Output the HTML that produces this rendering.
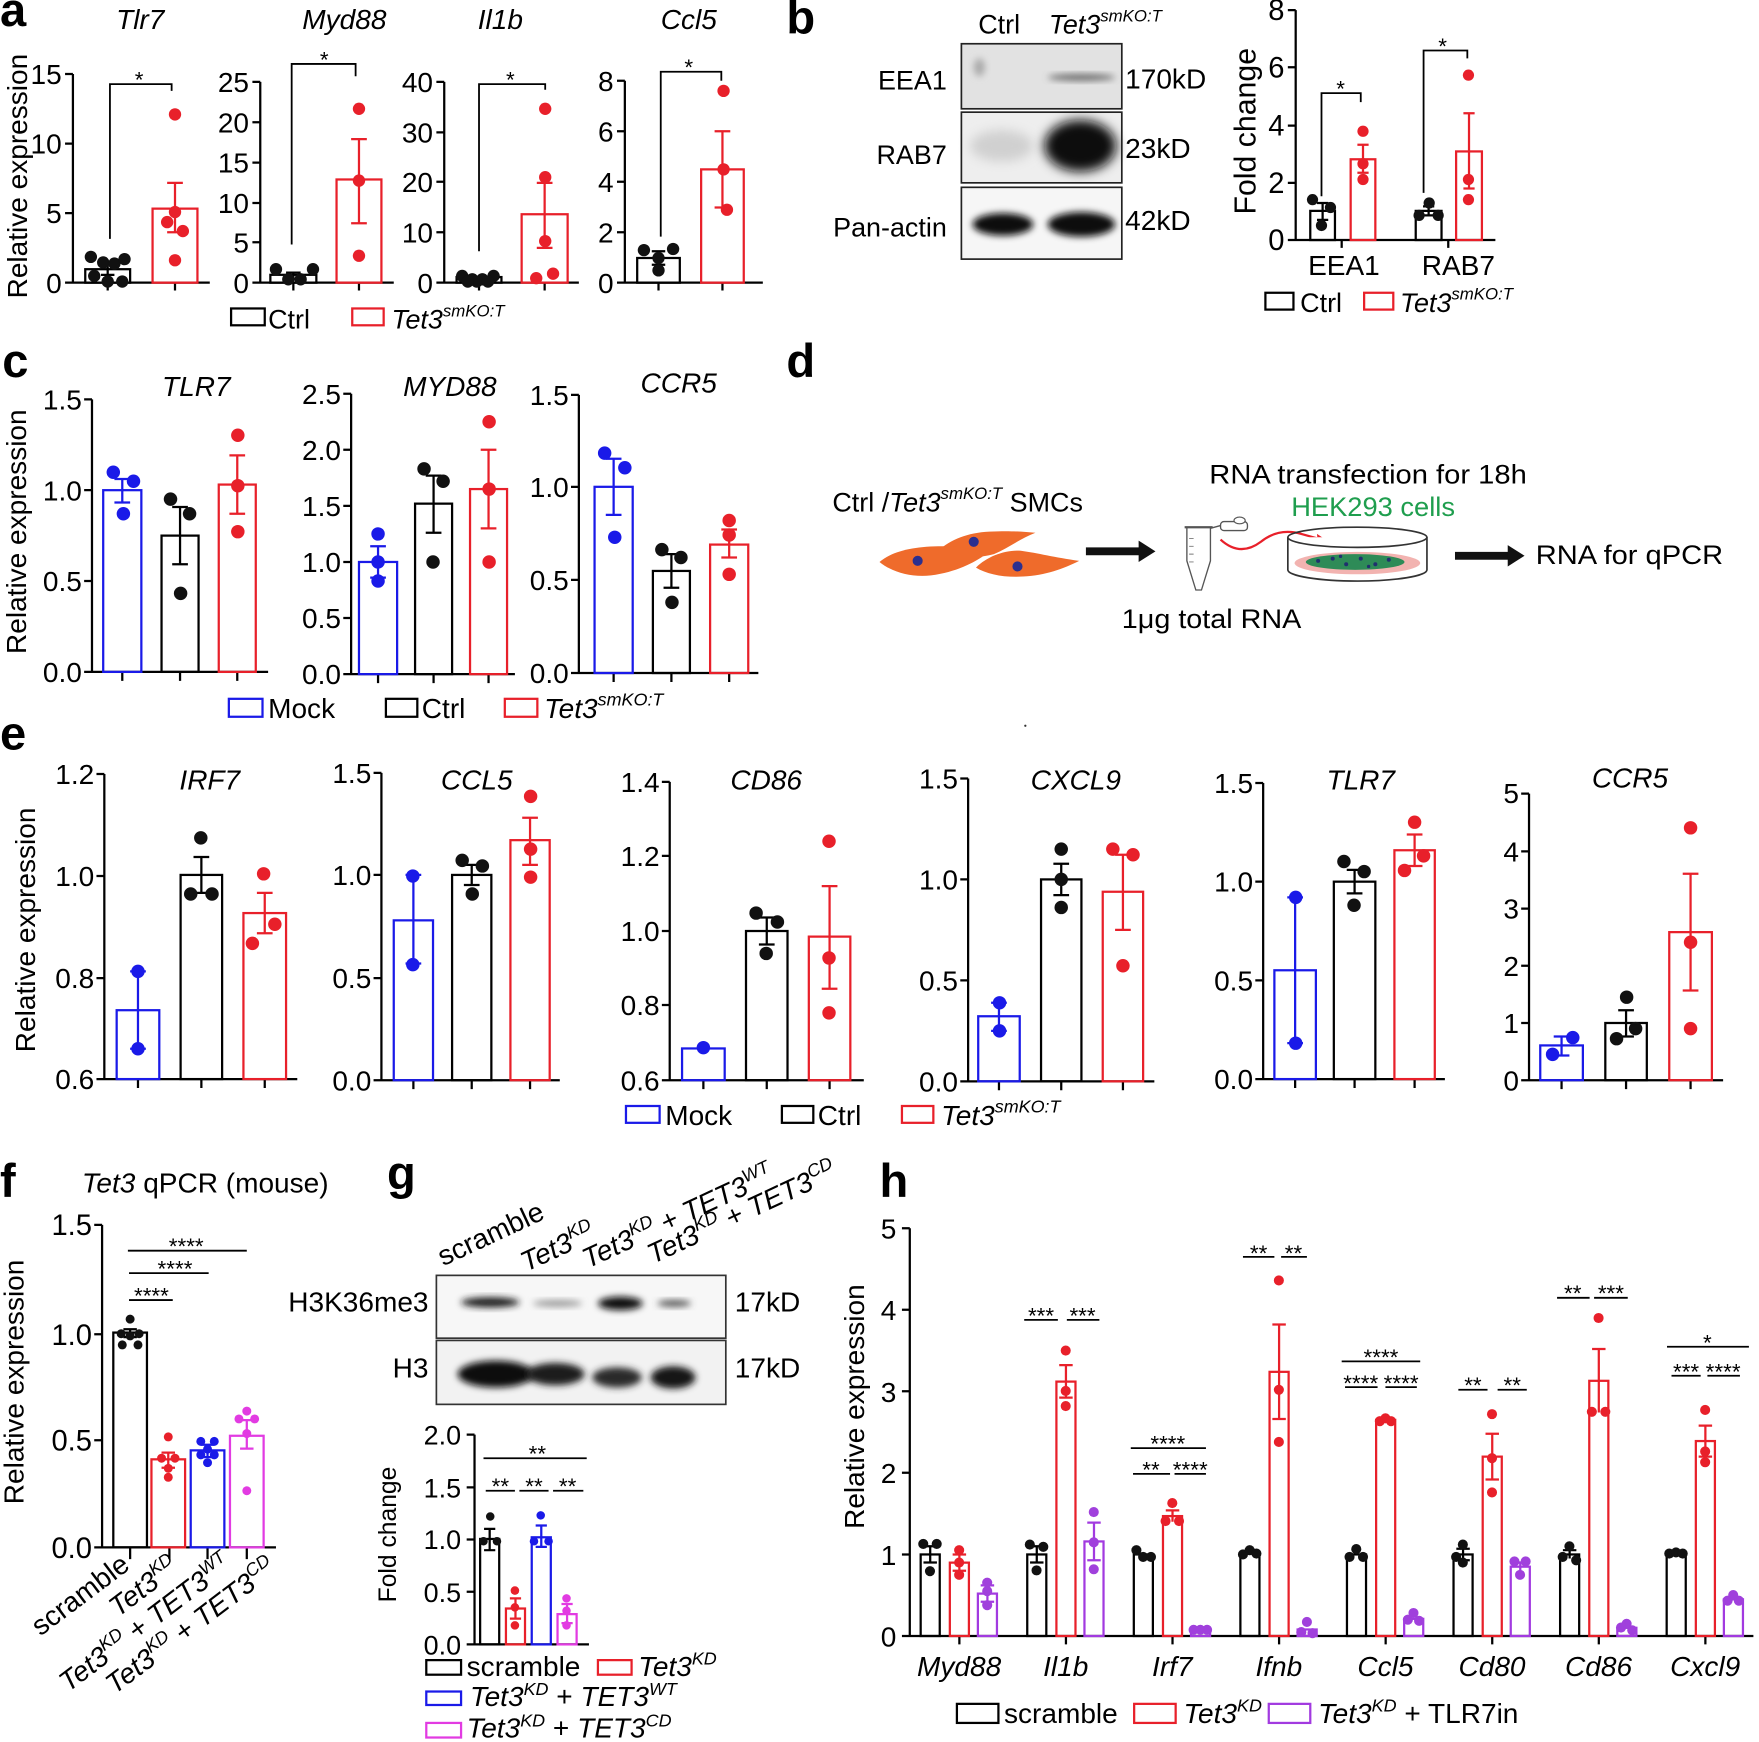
<!DOCTYPE html>
<html><head><meta charset="utf-8"><style>
html,body{margin:0;padding:0;background:#fff}
svg{display:block}
text{font-family:"Liberation Sans",Arial,sans-serif;fill:#000}
.L{font-weight:bold;font-size:42px}
.ax{stroke:#000;stroke-width:2;fill:none}
.sg{stroke:#000;stroke-width:1.6;fill:none}
.k{fill:none;stroke:#000;stroke-width:2}
.r{fill:none;stroke:#e8202a;stroke-width:2}
.b{fill:none;stroke:#1a1ae8;stroke-width:2}
.m{fill:none;stroke:#e23be2;stroke-width:2}
.p{fill:none;stroke:#a23ae0;stroke-width:2}
.fk{fill:#111}.fr{fill:#e8202a}.fb{fill:#1a1ae8}.fm{fill:#e23be2}.fp{fill:#a040dc}
</style></head><body>
<svg width="1759" height="1742" viewBox="0 0 1568 1553" preserveAspectRatio="none" xmlns="http://www.w3.org/2000/svg">
<defs>
<filter id="bl" x="-50%" y="-50%" width="200%" height="200%"><feGaussianBlur stdDeviation="3"/></filter>
<filter id="bl2" x="-50%" y="-50%" width="200%" height="200%"><feGaussianBlur stdDeviation="5"/></filter>
</defs>

<!-- ================= PANEL A ================= -->
<text class="L" x="0" y="23">a</text>
<g font-size="25" font-style="italic" text-anchor="middle">
<text x="125" y="26">Tlr7</text><text x="307" y="26">Myd88</text><text x="446" y="26">Il1b</text><text x="614" y="26">Ccl5</text>
</g>
<text transform="translate(24,157) rotate(-90)" text-anchor="middle" font-size="25">Relative expression</text>
<!-- a1 -->
<path class="ax" d="M65,66V252H187M58,66H65M58,128H65M58,190H65M58,252H65M96,252V259M156,252V259"/>
<g font-size="25" text-anchor="end"><text x="55" y="75">15</text><text x="55" y="137">10</text><text x="55" y="199">5</text><text x="55" y="261">0</text></g>
<rect x="76" y="240" width="40" height="12" class="k"/>
<rect x="136" y="186" width="40" height="66" class="r"/>
<path class="r" d="M156,163V207M149,163H163M149,207H163"/>
<path class="k" d="M96,235V245M90,235H102M90,245H102"/>
<g class="fr"><circle cx="156" cy="102" r="5.5"/><circle cx="156" cy="189" r="5.5"/><circle cx="149" cy="198" r="5.5"/><circle cx="163" cy="206" r="5.5"/><circle cx="156" cy="232" r="5.5"/></g>
<g class="fk"><circle cx="81" cy="229" r="5.5"/><circle cx="92" cy="234" r="5.5"/><circle cx="102" cy="235" r="5.5"/><circle cx="111" cy="231" r="5.5"/><circle cx="84" cy="246" r="5.5"/><circle cx="96" cy="251" r="5.5"/><circle cx="109" cy="251" r="5.5"/></g>
<path class="sg" d="M98,213V75H153V81"/><text x="124" y="78" font-size="20" text-anchor="middle">*</text>
<!-- a2 -->
<path class="ax" d="M232,73V252H351M225,73H232M225,109H232M225,145H232M225,181H232M225,216H232M225,252H232M261.5,252V259M320,252V259"/>
<g font-size="25" text-anchor="end"><text x="222" y="82">25</text><text x="222" y="118">20</text><text x="222" y="154">15</text><text x="222" y="190">10</text><text x="222" y="225">5</text><text x="222" y="261">0</text></g>
<rect x="241" y="245" width="41" height="7" class="k"/>
<rect x="300" y="160" width="40" height="92" class="r"/>
<path class="r" d="M320,124V199M313,124H327M313,199H327"/>
<path class="k" d="M261.5,243V249M255,243H268M255,249H268"/>
<g class="fr"><circle cx="320" cy="97" r="5.5"/><circle cx="320" cy="161" r="5.5"/><circle cx="320" cy="228" r="5.5"/></g>
<g class="fk"><circle cx="246" cy="240" r="5.5"/><circle cx="279" cy="240" r="5.5"/><circle cx="257" cy="249" r="5.5"/><circle cx="268" cy="249" r="5.5"/></g>
<path class="sg" d="M260,218V57H317V68"/><text x="289" y="60" font-size="20" text-anchor="middle">*</text>
<!-- a3 -->
<path class="ax" d="M396,73V252H516M389,73H396M389,118H396M389,162H396M389,207H396M389,252H396M427,252V259M485.5,252V259"/>
<g font-size="25" text-anchor="end"><text x="386" y="82">40</text><text x="386" y="127">30</text><text x="386" y="171">20</text><text x="386" y="216">10</text><text x="386" y="261">0</text></g>
<rect x="407" y="247" width="40" height="5" class="k"/>
<rect x="465" y="191" width="41" height="61" class="r"/>
<path class="r" d="M485.5,163V221M478.5,163H492.5M478.5,221H492.5"/>
<g class="fr"><circle cx="486" cy="97" r="5.5"/><circle cx="486" cy="158" r="5.5"/><circle cx="486" cy="215" r="5.5"/><circle cx="493" cy="244" r="5.5"/><circle cx="478" cy="248" r="5.5"/></g>
<g class="fk"><circle cx="412" cy="246" r="5.5"/><circle cx="421" cy="249" r="5.5"/><circle cx="430" cy="249" r="5.5"/><circle cx="440" cy="246" r="5.5"/><circle cx="425" cy="251" r="5.5"/><circle cx="435" cy="251" r="5.5"/><circle cx="417" cy="251" r="5.5"/></g>
<path class="sg" d="M427,224V75H486V80"/><text x="455" y="78" font-size="20" text-anchor="middle">*</text>
<!-- a4 -->
<path class="ax" d="M557,72V252H680M550,72H557M550,117H557M550,162H557M550,207H557M550,252H557M587,252V259M644,252V259"/>
<g font-size="25" text-anchor="end"><text x="547" y="81">8</text><text x="547" y="126">6</text><text x="547" y="171">4</text><text x="547" y="216">2</text><text x="547" y="261">0</text></g>
<rect x="568" y="230" width="38" height="22" class="k"/>
<rect x="625" y="151" width="38" height="101" class="r"/>
<path class="r" d="M644,117V185M637,117H651M637,185H651"/>
<path class="k" d="M587,224V236M581,224H593M581,236H593"/>
<g class="fr"><circle cx="645" cy="81" r="5.5"/><circle cx="645" cy="151" r="5.5"/><circle cx="648" cy="187" r="5.5"/></g>
<g class="fk"><circle cx="574" cy="223" r="5.5"/><circle cx="600" cy="222" r="5.5"/><circle cx="587" cy="230" r="5.5"/><circle cx="587" cy="241" r="5.5"/></g>
<path class="sg" d="M589,211V64H643V72"/><text x="614" y="67" font-size="20" text-anchor="middle">*</text>
<!-- legend a -->
<rect x="206" y="275" width="30" height="15" class="k"/>
<text x="239" y="293" font-size="24">Ctrl</text>
<rect x="314" y="275" width="28" height="15" class="r"/>
<text x="349" y="293" font-size="24" font-style="italic">Tet3<tspan font-size="15" dy="-11">smKO:T</tspan></text>

<!-- ================= PANEL B ================= -->
<text class="L" x="701" y="30">b</text>
<text x="872" y="30" font-size="24">Ctrl</text>
<text x="935" y="30" font-size="24" font-style="italic">Tet3<tspan font-size="15" dy="-11">smKO:T</tspan></text>
<rect x="857" y="39" width="143" height="58" fill="#e2e2e2"/>
<rect x="857" y="100" width="143" height="63" fill="#eeeeee"/>
<rect x="857" y="167" width="143" height="64" fill="#f6f6f6"/>
<ellipse cx="964" cy="69" rx="30" ry="3" fill="#6a6a6a" filter="url(#bl)"/>
<ellipse cx="873" cy="60" rx="5" ry="8" fill="#aaa" filter="url(#bl)"/>
<ellipse cx="893" cy="130" rx="28" ry="14" fill="#d0d0d0" filter="url(#bl2)"/>
<ellipse cx="963" cy="130" rx="32" ry="23" fill="#111" filter="url(#bl2)"/>
<ellipse cx="894" cy="200" rx="27" ry="10" fill="#111" filter="url(#bl)"/>
<ellipse cx="964" cy="200" rx="30" ry="11" fill="#111" filter="url(#bl)"/>
<g fill="none" stroke="#222" stroke-width="1.5"><rect x="857" y="39" width="143" height="58"/><rect x="857" y="100" width="143" height="63"/><rect x="857" y="167" width="143" height="64"/></g>
<g font-size="24" text-anchor="end"><text x="844" y="80">EEA1</text><text x="844" y="146">RAB7</text><text x="844" y="211">Pan-actin</text></g>
<g font-size="25"><text x="1003" y="79">170kD</text><text x="1003" y="141">23kD</text><text x="1003" y="205">42kD</text></g>
<!-- b chart -->
<path class="ax" d="M1155,9V214H1333M1148,9H1155M1148,60H1155M1148,112H1155M1148,163H1155M1148,214H1155M1196,214V221M1291,214V221"/>
<g font-size="26" text-anchor="end"><text x="1145" y="18">8</text><text x="1145" y="69">6</text><text x="1145" y="121">4</text><text x="1145" y="172">2</text><text x="1145" y="223">0</text></g>
<text transform="translate(1119,117) rotate(-90)" text-anchor="middle" font-size="27">Fold change</text>
<rect x="1168" y="188" width="22" height="26" class="k"/>
<rect x="1204" y="142" width="22" height="72" class="r"/>
<rect x="1262" y="188" width="23" height="26" class="k"/>
<rect x="1298" y="135" width="23" height="79" class="r"/>
<path class="k" d="M1179,181V196M1174,181H1184M1174,196H1184M1273.5,184V192M1268.5,184H1278.5M1268.5,192H1278.5"/>
<path class="r" d="M1215,129V154M1210,129H1220M1210,154H1220M1309.5,101V168M1304.5,101H1314.5M1304.5,168H1314.5"/>
<g class="fr"><circle cx="1215" cy="117" r="5"/><circle cx="1215" cy="146" r="5"/><circle cx="1215" cy="160" r="5"/><circle cx="1309" cy="67" r="5"/><circle cx="1309" cy="160" r="5"/><circle cx="1309" cy="178" r="5"/></g>
<g class="fk"><circle cx="1170" cy="178" r="5"/><circle cx="1186" cy="185" r="5"/><circle cx="1178" cy="201" r="5"/><circle cx="1274" cy="181" r="5"/><circle cx="1265" cy="192" r="5"/><circle cx="1282" cy="192" r="5"/></g>
<path class="sg" d="M1178,175V83H1213V91M1269,172V45H1308V52"/>
<text x="1195" y="86" font-size="20" text-anchor="middle">*</text><text x="1286" y="48" font-size="20" text-anchor="middle">*</text>
<g font-size="25" text-anchor="middle"><text x="1198" y="245">EEA1</text><text x="1300" y="245">RAB7</text></g>
<rect x="1128" y="261" width="25" height="15" class="k"/>
<text x="1159" y="278" font-size="24">Ctrl</text>
<rect x="1216" y="261" width="26" height="15" class="r"/>
<text x="1248" y="278" font-size="24" font-style="italic">Tet3<tspan font-size="15" dy="-11">smKO:T</tspan></text>

<!-- ================= PANEL C ================= -->
<text class="L" x="2" y="336">c</text>
<g font-size="25" font-style="italic" text-anchor="middle"><text x="175" y="353">TLR7</text><text x="401" y="353">MYD88</text><text x="605" y="350">CCR5</text></g>
<text transform="translate(23,474) rotate(-90)" text-anchor="middle" font-size="25">Relative expression</text>
<!-- c1 -->
<path class="ax" d="M82,356V599H239M75,356H82M75,437H82M75,518H82M75,599H82M109,599V607M160.5,599V607M211.5,599V607"/>
<g font-size="25" text-anchor="end"><text x="73" y="365">1.5</text><text x="73" y="446">1.0</text><text x="73" y="527">0.5</text><text x="73" y="608">0.0</text></g>
<rect x="92" y="437" width="34" height="162" class="b"/>
<rect x="144" y="477.5" width="33" height="121.5" class="k"/>
<rect x="195" y="432" width="33" height="167" class="r"/>
<path class="b" d="M109,427V448M102,427H116M102,448H116"/>
<path class="k" d="M160.5,452V503M153.5,452H167.5M153.5,503H167.5"/>
<path class="r" d="M211.5,406V458M204.5,406H218.5M204.5,458H218.5"/>
<g class="fb"><circle cx="101" cy="421" r="6"/><circle cx="119" cy="429" r="6"/><circle cx="110" cy="458" r="6"/></g>
<g class="fk"><circle cx="152" cy="445" r="6"/><circle cx="169" cy="458" r="6"/><circle cx="161" cy="529" r="6"/></g>
<g class="fr"><circle cx="212" cy="388" r="6"/><circle cx="212" cy="433" r="6"/><circle cx="212" cy="474" r="6"/></g>
<!-- c2 -->
<path class="ax" d="M313,351V601H459M306,351H313M306,401H313M306,451H313M306,501H313M306,551H313M306,601H313M337,601V609M386.5,601V609M435.5,601V609"/>
<g font-size="25" text-anchor="end"><text x="304" y="360">2.5</text><text x="304" y="410">2.0</text><text x="304" y="460">1.5</text><text x="304" y="510">1.0</text><text x="304" y="560">0.5</text><text x="304" y="610">0.0</text></g>
<rect x="320" y="501" width="34" height="100" class="b"/>
<rect x="370" y="449" width="33" height="152" class="k"/>
<rect x="419" y="436" width="33" height="165" class="r"/>
<path class="b" d="M337,487V515M330,487H344M330,515H344"/>
<path class="k" d="M386.5,424V475M379.5,424H393.5M379.5,475H393.5"/>
<path class="r" d="M435.5,401V471M428.5,401H442.5M428.5,471H442.5"/>
<g class="fb"><circle cx="337" cy="476" r="6"/><circle cx="337" cy="501" r="6"/><circle cx="337" cy="518" r="6"/></g>
<g class="fk"><circle cx="378" cy="418" r="6"/><circle cx="395" cy="429" r="6"/><circle cx="386" cy="501" r="6"/></g>
<g class="fr"><circle cx="436" cy="376" r="6"/><circle cx="436" cy="436" r="6"/><circle cx="436" cy="501" r="6"/></g>
<!-- c3 -->
<path class="ax" d="M516,352V600H676M509,352H516M509,434H516M509,517H516M509,600H516M547,600V608M598.5,600V608M650,600V608"/>
<g font-size="25" text-anchor="end"><text x="507" y="361">1.5</text><text x="507" y="443">1.0</text><text x="507" y="526">0.5</text><text x="507" y="609">0.0</text></g>
<rect x="530" y="434" width="34" height="166" class="b"/>
<rect x="582" y="509" width="33" height="91" class="k"/>
<rect x="633" y="485.5" width="34" height="114.5" class="r"/>
<path class="b" d="M547,409V459M540,409H554M540,459H554"/>
<path class="k" d="M598.5,494V524M591.5,494H605.5M591.5,524H605.5"/>
<path class="r" d="M650,472V497M643,472H657M643,497H657"/>
<g class="fb"><circle cx="539" cy="404" r="6"/><circle cx="557" cy="417" r="6"/><circle cx="548" cy="479" r="6"/></g>
<g class="fk"><circle cx="590" cy="490" r="6"/><circle cx="607" cy="497" r="6"/><circle cx="599" cy="537" r="6"/></g>
<g class="fr"><circle cx="650" cy="464" r="6"/><circle cx="650" cy="477" r="6"/><circle cx="650" cy="512" r="6"/></g>
<!-- legend c -->
<rect x="204" y="623" width="30" height="16" class="b"/><text x="239" y="640" font-size="25">Mock</text>
<rect x="344" y="623" width="28" height="16" class="k"/><text x="376" y="640" font-size="25">Ctrl</text>
<rect x="450" y="623" width="29" height="16" class="r"/><text x="485" y="640" font-size="25" font-style="italic">Tet3<tspan font-size="16" dy="-11">smKO:T</tspan></text>

<!-- ================= PANEL D ================= -->
<text class="L" x="701" y="336">d</text>
<text x="742" y="456" font-size="24">Ctrl /<tspan font-style="italic">Tet3</tspan><tspan font-size="15" font-style="italic" dy="-11">smKO:T</tspan><tspan dy="11"> SMCs</tspan></text>
<text x="1078" y="431" font-size="24" textLength="283" lengthAdjust="spacingAndGlyphs">RNA transfection for 18h</text>
<text x="1151" y="460" font-size="24" fill="#1f9e4e" style="fill:#1f9e4e" textLength="146" lengthAdjust="spacingAndGlyphs">HEK293 cells</text>
<text x="1369" y="503" font-size="24" textLength="167" lengthAdjust="spacingAndGlyphs">RNA for qPCR</text>
<text x="1000" y="560" font-size="24" textLength="160" lengthAdjust="spacingAndGlyphs">1μg total RNA</text>
<g fill="#ef6b2b">
<path d="M836,491C848,481 862,475 882,474C900,473 912,474 923,475C908,481 898,489 886,494C872,498 850,498 836,491Z"/>
<path d="M784,501C796,491 815,487 840,487C858,487 870,490 879,494C868,502 852,510 830,513C812,515 795,510 784,501Z"/>
<path d="M870,506C880,496 896,490 910,491C925,493 940,497 962,500C948,507 932,513 912,514C895,515 880,512 870,506Z"/>
</g>
<g fill="#2b2f8f"><circle cx="868" cy="483" r="4.5"/><circle cx="818" cy="500" r="4.5"/><circle cx="907" cy="505" r="4.5"/></g>
<rect x="968" y="488" width="50" height="7" fill="#111"/><polygon points="1015,482 1030,491.5 1015,501" fill="#111"/>
<rect x="1297" y="492" width="50" height="7" fill="#111"/><polygon points="1344,486 1359,495.5 1344,505" fill="#111"/>
<!-- tube -->
<path d="M1058,470H1079V500L1071,526H1066L1058,500Z" fill="#fff" stroke="#555" stroke-width="1.2"/>
<path d="M1056,470H1081" stroke="#555" stroke-width="2"/>
<path d="M1060,480h4M1060,487h4M1060,494h4M1060,501h4" stroke="#777" stroke-width="0.8"/>
<path d="M1079,471L1090,468" stroke="#555" stroke-width="1.2"/>
<rect x="1088" y="465" width="24" height="8" rx="3" fill="#fff" stroke="#555" stroke-width="1.2"/>
<ellipse cx="1105" cy="464" rx="5" ry="3" fill="#fff" stroke="#555" stroke-width="1"/>
<path d="M1088,481C1100,492 1112,492 1124,483C1134,475 1146,472 1160,476L1178,481" fill="none" stroke="#e8202a" stroke-width="2"/>
<polygon points="1186,484 1174,476 1175,488" fill="#e8202a"/>
<!-- dish -->
<path d="M1148,479V508A62,10 0 0 0 1272,508V479" fill="#fff" stroke="#333" stroke-width="1.5"/>
<ellipse cx="1210" cy="502" rx="56" ry="10" fill="#f2b3b0"/>
<ellipse cx="1208" cy="501" rx="44" ry="7" fill="#2e8b57"/>
<g fill="#20306e"><circle cx="1175" cy="500" r="1.8"/><circle cx="1188" cy="498" r="1.8"/><circle cx="1200" cy="503" r="1.8"/><circle cx="1213" cy="498" r="1.8"/><circle cx="1226" cy="503" r="1.8"/><circle cx="1238" cy="499" r="1.8"/><circle cx="1195" cy="496" r="1.5"/><circle cx="1220" cy="505" r="1.5"/></g>
<ellipse cx="1210" cy="479" rx="62" ry="9" fill="none" stroke="#333" stroke-width="1.5"/>
<circle cx="914" cy="647" r="1" fill="#333"/>

<!-- ================= PANEL E ================= -->
<text class="L" x="0" y="668">e</text>
<text transform="translate(31,829) rotate(-90)" text-anchor="middle" font-size="25">Relative expression</text>
<g font-size="25" font-style="italic" text-anchor="middle"><text x="187" y="704">IRF7</text><text x="425" y="704">CCL5</text><text x="683" y="704">CD86</text><text x="959" y="704">CXCL9</text><text x="1213" y="704">TLR7</text><text x="1453" y="702">CCR5</text></g>
<!-- e1 -->
<path class="ax" d="M93,690V962H265M86,690H93M86,781H93M86,872H93M86,962H93M123,962V970M179.5,962V970M236,962V970"/>
<g font-size="25" text-anchor="end"><text x="84" y="699">1.2</text><text x="84" y="790">1.0</text><text x="84" y="881">0.8</text><text x="84" y="971">0.6</text></g>
<rect x="104" y="900.6" width="38" height="61.4" class="b"/>
<rect x="161" y="780" width="37" height="182" class="k"/>
<rect x="217" y="814" width="38" height="148" class="r"/>
<path class="b" d="M123,866V935M116,866H130M116,935H130"/>
<path class="k" d="M179.5,764V796M172.5,764H186.5M172.5,796H186.5"/>
<path class="r" d="M236,796V832M229,796H243M229,832H243"/>
<g class="fb"><circle cx="123" cy="866" r="6"/><circle cx="123" cy="935" r="6"/></g>
<g class="fk"><circle cx="179" cy="747" r="6"/><circle cx="170" cy="797" r="6"/><circle cx="189" cy="797" r="6"/></g>
<g class="fr"><circle cx="235" cy="779" r="6"/><circle cx="245" cy="824" r="6"/><circle cx="225" cy="841" r="6"/></g>
<!-- e2 -->
<path class="ax" d="M340,689V963H499M333,689H340M333,780H340M333,872H340M333,963H340M368.5,963V971M420.5,963V971M472.5,963V971"/>
<g font-size="25" text-anchor="end"><text x="331" y="698">1.5</text><text x="331" y="789">1.0</text><text x="331" y="881">0.5</text><text x="331" y="972">0.0</text></g>
<rect x="351" y="820.5" width="35" height="142.5" class="b"/>
<rect x="403" y="780" width="35" height="183" class="k"/>
<rect x="455" y="749" width="35" height="214" class="r"/>
<path class="b" d="M368.5,780V859M361.5,780H375.5M361.5,859H375.5"/>
<path class="k" d="M420.5,771V789M413.5,771H427.5M413.5,789H427.5"/>
<path class="r" d="M472.5,729V771M465.5,729H479.5M465.5,771H479.5"/>
<g class="fb"><circle cx="368" cy="781" r="6"/><circle cx="368" cy="860" r="6"/></g>
<g class="fk"><circle cx="412" cy="767" r="6"/><circle cx="430" cy="772" r="6"/><circle cx="421" cy="797" r="6"/></g>
<g class="fr"><circle cx="473" cy="710" r="6"/><circle cx="473" cy="757" r="6"/><circle cx="473" cy="782" r="6"/></g>
<!-- e3 -->
<path class="ax" d="M597,697V963H770M590,697H597M590,763H597M590,830H597M590,896H597M590,963H597M627,963V971M683.5,963V971M739.5,963V971"/>
<g font-size="25" text-anchor="end"><text x="588" y="706">1.4</text><text x="588" y="772">1.2</text><text x="588" y="839">1.0</text><text x="588" y="905">0.8</text><text x="588" y="972">0.6</text></g>
<rect x="608" y="934.7" width="38" height="28.3" class="b"/>
<rect x="665" y="830" width="37" height="133" class="k"/>
<rect x="721" y="835" width="37" height="128" class="r"/>
<path class="k" d="M683.5,818V842M676.5,818H690.5M676.5,842H690.5"/>
<path class="r" d="M739.5,790V881.5M732.5,790H746.5M732.5,881.5H746.5"/>
<g class="fb"><circle cx="627" cy="934" r="6"/></g>
<g class="fk"><circle cx="674" cy="814" r="6"/><circle cx="693" cy="822" r="6"/><circle cx="683" cy="850" r="6"/></g>
<g class="fr"><circle cx="739" cy="750" r="6"/><circle cx="739" cy="854" r="6"/><circle cx="739" cy="903" r="6"/></g>
<!-- e4 -->
<path class="ax" d="M863,694V964H1029M856,694H863M856,784H863M856,874H863M856,964H863M890.5,964V972M946,964V972M1001,964V972"/>
<g font-size="25" text-anchor="end"><text x="854" y="703">1.5</text><text x="854" y="793">1.0</text><text x="854" y="883">0.5</text><text x="854" y="973">0.0</text></g>
<rect x="872" y="906" width="37" height="58" class="b"/>
<rect x="928" y="784" width="36" height="180" class="k"/>
<rect x="983" y="795" width="36" height="169" class="r"/>
<path class="b" d="M890.5,894V919M883.5,894H897.5M883.5,919H897.5"/>
<path class="k" d="M946,770V798M939,770H953M939,798H953"/>
<path class="r" d="M1001,762V829M994,762H1008M994,829H1008"/>
<g class="fb"><circle cx="891" cy="894" r="6"/><circle cx="891" cy="919" r="6"/></g>
<g class="fk"><circle cx="946" cy="757" r="6"/><circle cx="946" cy="784" r="6"/><circle cx="946" cy="809" r="6"/></g>
<g class="fr"><circle cx="992" cy="757" r="6"/><circle cx="1010" cy="762" r="6"/><circle cx="1001" cy="861" r="6"/></g>
<!-- e5 -->
<path class="ax" d="M1126,698V962H1288M1119,698H1126M1119,786H1126M1119,874H1126M1119,962H1126M1154.5,962V970M1207.5,962V970M1261,962V970"/>
<g font-size="25" text-anchor="end"><text x="1117" y="707">1.5</text><text x="1117" y="795">1.0</text><text x="1117" y="883">0.5</text><text x="1117" y="971">0.0</text></g>
<rect x="1136" y="865" width="37" height="97" class="b"/>
<rect x="1189" y="786" width="37" height="176" class="k"/>
<rect x="1243" y="758" width="36" height="204" class="r"/>
<path class="b" d="M1154.5,800V930M1147.5,800H1161.5M1147.5,930H1161.5"/>
<path class="k" d="M1207.5,775.5V796.5M1200.5,775.5H1214.5M1200.5,796.5H1214.5"/>
<path class="r" d="M1261,744V772M1254,744H1268M1254,772H1268"/>
<g class="fb"><circle cx="1155" cy="800" r="6"/><circle cx="1155" cy="930" r="6"/></g>
<g class="fk"><circle cx="1198" cy="768" r="6"/><circle cx="1216" cy="777" r="6"/><circle cx="1207" cy="807" r="6"/></g>
<g class="fr"><circle cx="1261" cy="733" r="6"/><circle cx="1269" cy="763" r="6"/><circle cx="1252" cy="776" r="6"/></g>
<!-- e6 -->
<path class="ax" d="M1363,707.5V963H1536M1356,707.5H1363M1356,759H1363M1356,810H1363M1356,861H1363M1356,912H1363M1356,963H1363M1392,963V971M1449.5,963V971M1507,963V971"/>
<g font-size="25" text-anchor="end"><text x="1354" y="716">5</text><text x="1354" y="768">4</text><text x="1354" y="819">3</text><text x="1354" y="870">2</text><text x="1354" y="921">1</text><text x="1354" y="972">0</text></g>
<rect x="1373" y="932" width="38" height="31" class="b"/>
<rect x="1431" y="912" width="37" height="51" class="k"/>
<rect x="1488" y="831" width="38" height="132" class="r"/>
<path class="b" d="M1392,924V941M1385,924H1399M1385,941H1399"/>
<path class="k" d="M1449.5,900.6V924M1442.5,900.6H1456.5M1442.5,924H1456.5"/>
<path class="r" d="M1507,779V883M1500,779H1514M1500,883H1514"/>
<g class="fb"><circle cx="1402" cy="925" r="6"/><circle cx="1384" cy="940" r="6"/></g>
<g class="fk"><circle cx="1450" cy="889" r="6"/><circle cx="1458" cy="917" r="6"/><circle cx="1441" cy="926" r="6"/></g>
<g class="fr"><circle cx="1507" cy="738" r="6"/><circle cx="1507" cy="840" r="6"/><circle cx="1507" cy="917" r="6"/></g>
<!-- legend e -->
<rect x="558" y="986" width="30" height="15" class="b"/><text x="593" y="1003" font-size="25">Mock</text>
<rect x="697" y="986" width="28" height="15" class="k"/><text x="729" y="1003" font-size="25">Ctrl</text>
<rect x="804" y="986" width="28" height="15" class="r"/><text x="839" y="1003" font-size="25" font-style="italic">Tet3<tspan font-size="16" dy="-11">smKO:T</tspan></text>

<!-- ================= PANEL F ================= -->
<text class="L" x="0" y="1067">f</text>
<text x="73" y="1063" font-size="25"><tspan font-style="italic">Tet3</tspan> qPCR (mouse)</text>
<text transform="translate(21,1232) rotate(-90)" text-anchor="middle" font-size="25">Relative expression</text>
<path class="ax" d="M91,1092V1379.5H246M84,1092H91M84,1189.5H91M84,1284H91M84,1379.5H91M116,1379.5V1390M151,1379.5V1390M185,1379.5V1390M220,1379.5V1390"/>
<g font-size="26" text-anchor="end"><text x="82" y="1101">1.5</text><text x="82" y="1199">1.0</text><text x="82" y="1293">0.5</text><text x="82" y="1389">0.0</text></g>
<rect x="101" y="1188" width="30" height="191.5" class="k"/>
<rect x="135" y="1301" width="30" height="78.5" class="r"/>
<rect x="170" y="1293" width="30" height="86.5" class="b"/>
<rect x="205" y="1280" width="30" height="99.5" class="m"/>
<path class="k" d="M116,1185V1192M110,1185H122M110,1192H122"/>
<path class="r" d="M150,1295V1308.5M144,1295H156M144,1308.5H156"/>
<path class="b" d="M185,1288V1299M179,1288H191M179,1299H191"/>
<path class="m" d="M220,1266V1291.5M214,1266H226M214,1291.5H226"/>
<g class="fk"><circle cx="116" cy="1176" r="4"/><circle cx="108" cy="1189" r="4"/><circle cx="124" cy="1189" r="4"/><circle cx="116" cy="1191" r="4"/><circle cx="109" cy="1199" r="4"/><circle cx="123" cy="1199" r="4"/></g>
<g class="fr"><circle cx="150" cy="1281" r="4"/><circle cx="144" cy="1300" r="4"/><circle cx="156" cy="1300" r="4"/><circle cx="150" cy="1309" r="4"/><circle cx="150" cy="1317" r="4"/></g>
<g class="fb"><circle cx="179" cy="1285" r="4"/><circle cx="191" cy="1285" r="4"/><circle cx="185" cy="1292" r="4"/><circle cx="179" cy="1297" r="4"/><circle cx="191" cy="1297" r="4"/><circle cx="185" cy="1304" r="4"/></g>
<g class="fm"><circle cx="220" cy="1258" r="4"/><circle cx="213" cy="1265" r="4"/><circle cx="227" cy="1265" r="4"/><circle cx="220" cy="1278" r="4"/><circle cx="220" cy="1329" r="4"/></g>
<path class="sg" d="M115,1159H154M115,1135H186M114,1115H220"/>
<g font-size="20" text-anchor="middle"><text x="135" y="1162">****</text><text x="156" y="1138">****</text><text x="166" y="1118">****</text></g>
<g font-size="25" text-anchor="end">
<text transform="translate(117,1398) rotate(-37)">scramble</text>
<text transform="translate(161,1400) rotate(-37)" font-style="italic">Tet3<tspan font-size="16" dy="-10">KD</tspan></text>
<text transform="translate(208,1398) rotate(-37)"><tspan font-style="italic">Tet3</tspan><tspan font-size="16" font-style="italic" dy="-10">KD</tspan><tspan dy="10"> + </tspan><tspan font-style="italic">TET3</tspan><tspan font-size="16" font-style="italic" dy="-10">WT</tspan></text>
<text transform="translate(248,1401) rotate(-37)"><tspan font-style="italic">Tet3</tspan><tspan font-size="16" font-style="italic" dy="-10">KD</tspan><tspan dy="10"> + </tspan><tspan font-style="italic">TET3</tspan><tspan font-size="16" font-style="italic" dy="-10">CD</tspan></text>
</g>

<!-- ================= PANEL G ================= -->
<text class="L" x="345" y="1060">g</text>
<g font-size="25">
<text transform="translate(395,1129) rotate(-25)">scramble</text>
<text transform="translate(469,1134) rotate(-25)" font-style="italic">Tet3<tspan font-size="16" dy="-10">KD</tspan></text>
<text transform="translate(524,1131) rotate(-25)"><tspan font-style="italic">Tet3</tspan><tspan font-size="16" font-style="italic" dy="-10">KD</tspan><tspan dy="10"> + </tspan><tspan font-style="italic">TET3</tspan><tspan font-size="16" font-style="italic" dy="-10">WT</tspan></text>
<text transform="translate(582,1127) rotate(-25)"><tspan font-style="italic">Tet3</tspan><tspan font-size="16" font-style="italic" dy="-10">KD</tspan><tspan dy="10"> + </tspan><tspan font-style="italic">TET3</tspan><tspan font-size="16" font-style="italic" dy="-10">CD</tspan></text>
</g>
<rect x="389" y="1137" width="258" height="56" fill="#f7f7f7"/>
<rect x="389" y="1195" width="258" height="57" fill="#f2f2f2"/>
<ellipse cx="437" cy="1161" rx="26" ry="4.5" fill="#1a1a1a" filter="url(#bl)"/>
<ellipse cx="497" cy="1162" rx="22" ry="3" fill="#999" filter="url(#bl)"/>
<ellipse cx="553" cy="1162" rx="20" ry="6" fill="#111" filter="url(#bl)"/>
<ellipse cx="601" cy="1162" rx="15" ry="3" fill="#555" filter="url(#bl)"/>
<ellipse cx="442" cy="1225" rx="34" ry="12" fill="#0c0c0c" filter="url(#bl)"/>
<ellipse cx="495" cy="1225" rx="26" ry="10" fill="#1a1a1a" filter="url(#bl)"/>
<ellipse cx="550" cy="1228" rx="22" ry="9" fill="#2a2a2a" filter="url(#bl)"/>
<ellipse cx="600" cy="1228" rx="20" ry="10" fill="#161616" filter="url(#bl)"/>
<g fill="none" stroke="#333" stroke-width="1.5"><rect x="389" y="1137" width="258" height="56"/><rect x="389" y="1195" width="258" height="57"/></g>
<g font-size="25" text-anchor="end"><text x="382" y="1169">H3K36me3</text><text x="382" y="1228">H3</text></g>
<g font-size="25"><text x="655" y="1169">17kD</text><text x="655" y="1228">17kD</text></g>
<text transform="translate(353,1368) rotate(-90)" text-anchor="middle" font-size="22">Fold change</text>
<path class="ax" d="M423,1279V1466H525M416,1279H423M416,1326H423M416,1372.5H423M416,1419H423M416,1466H423"/>
<g font-size="24" text-anchor="end"><text x="411" y="1288">2.0</text><text x="411" y="1335">1.5</text><text x="411" y="1381">1.0</text><text x="411" y="1428">0.5</text><text x="411" y="1475">0.0</text></g>
<rect x="428" y="1372" width="17" height="94" class="k"/>
<rect x="451" y="1434" width="17" height="32" class="r"/>
<rect x="474" y="1370.5" width="17" height="95.5" class="b"/>
<rect x="497" y="1439" width="17" height="27" class="m"/>
<path class="k" d="M436.5,1363V1382M431.5,1363H441.5M431.5,1382H441.5"/>
<path class="r" d="M459.5,1425V1443M454.5,1425H464.5M454.5,1443H464.5"/>
<path class="b" d="M482.5,1360V1379M477.5,1360H487.5M477.5,1379H487.5"/>
<path class="m" d="M505.5,1430V1447M500.5,1430H510.5M500.5,1447H510.5"/>
<g class="fk"><circle cx="437" cy="1352" r="3.8"/><circle cx="431" cy="1374" r="3.8"/><circle cx="443" cy="1374" r="3.8"/></g>
<g class="fr"><circle cx="459" cy="1418" r="3.8"/><circle cx="459" cy="1433" r="3.8"/><circle cx="459" cy="1449" r="3.8"/></g>
<g class="fb"><circle cx="482" cy="1351" r="3.8"/><circle cx="476" cy="1374" r="3.8"/><circle cx="489" cy="1374" r="3.8"/></g>
<g class="fm"><circle cx="505" cy="1425" r="3.8"/><circle cx="505" cy="1436" r="3.8"/><circle cx="505" cy="1449" r="3.8"/></g>
<path class="sg" d="M431,1300H523M433,1329H459M463,1329H489M493,1329H520"/>
<g font-size="20" text-anchor="middle"><text x="479" y="1303">**</text><text x="446" y="1332">**</text><text x="476" y="1332">**</text><text x="506" y="1332">**</text></g>
<rect x="380" y="1480" width="31" height="13" class="k"/><text x="416" y="1494" font-size="25">scramble</text>
<rect x="533" y="1480" width="30" height="13" class="r"/><text x="569" y="1494" font-size="25" font-style="italic">Tet3<tspan font-size="16" dy="-10">KD</tspan></text>
<rect x="380" y="1508" width="31" height="12" class="b"/><text x="419" y="1521" font-size="25"><tspan font-style="italic">Tet3</tspan><tspan font-size="16" font-style="italic" dy="-10">KD</tspan><tspan dy="10"> + </tspan><tspan font-style="italic">TET3</tspan><tspan font-size="16" font-style="italic" dy="-10">WT</tspan></text>
<rect x="380" y="1536" width="31" height="13" class="m"/><text x="416" y="1549" font-size="25"><tspan font-style="italic">Tet3</tspan><tspan font-size="16" font-style="italic" dy="-10">KD</tspan><tspan dy="10"> + </tspan><tspan font-style="italic">TET3</tspan><tspan font-size="16" font-style="italic" dy="-10">CD</tspan></text>

<!-- ================= PANEL H ================= -->
<text class="L" x="784" y="1067">h</text>
<text transform="translate(770,1254) rotate(-90)" text-anchor="middle" font-size="25">Relative expression</text>
<path class="ax" d="M811,1095V1458.5H1563M804,1095H811M804,1167.6H811M804,1240.3H811M804,1313H811M804,1385.8H811M804,1458.5H811M855.2,1458.5V1466M950.2,1458.5V1466M1045.2,1458.5V1466M1140.2,1458.5V1466M1235.2,1458.5V1466M1330.2,1458.5V1466M1425.2,1458.5V1466M1520.2,1458.5V1466"/>
<g font-size="25" text-anchor="end"><text x="799" y="1104">5</text><text x="799" y="1177">4</text><text x="799" y="1250">3</text><text x="799" y="1322">2</text><text x="799" y="1395">1</text><text x="799" y="1468">0</text></g>
<g class="k">
<rect x="820.7" y="1385.8" width="17" height="72.7"/><rect x="915.7" y="1385.8" width="17" height="72.7"/><rect x="1010.7" y="1385.8" width="17" height="72.7"/><rect x="1105.7" y="1384.3" width="17" height="74.2"/><rect x="1200.7" y="1385.8" width="17" height="72.7"/><rect x="1295.7" y="1385.8" width="17" height="72.7"/><rect x="1390.7" y="1385.8" width="17" height="72.7"/><rect x="1485.7" y="1385.8" width="17" height="72.7"/>
<path d="M829.2,1378.5V1393M823.2,1378.5H835.2M823.2,1393H835.2M924.2,1378.5V1393M918.2,1378.5H930.2M918.2,1393H930.2M1304.2,1380.7V1391M1298.2,1380.7H1310.2M1298.2,1391H1310.2M1399.2,1382V1389.4M1393.2,1382H1405.2"/>
</g>
<g class="r">
<rect x="846.7" y="1393.1" width="17" height="65.4"/><rect x="941.7" y="1231.7" width="17" height="226.8"/><rect x="1036.7" y="1351.6" width="17" height="106.9"/><rect x="1131.7" y="1223" width="17" height="235.5"/><rect x="1226.7" y="1265.8" width="17" height="192.7"/><rect x="1321.7" y="1298.6" width="17" height="159.9"/><rect x="1416.7" y="1231" width="17" height="227.5"/><rect x="1511.7" y="1284.7" width="17" height="173.8"/>
<path d="M855.2,1385.8V1400.3M849.2,1385.8H861.2M849.2,1400.3H861.2M950.2,1217V1246M944.2,1217H956.2M944.2,1246H956.2M1045.2,1346.5V1356.7M1039.2,1346.5H1051.2M1140.2,1180.8V1265M1134.2,1180.8H1146.2M1134.2,1265H1146.2M1330.2,1278.2V1319M1324.2,1278.2H1336.2M1324.2,1319H1336.2M1425.2,1202.6V1259.3M1419.2,1202.6H1431.2M1520.2,1271V1298.6M1514.2,1271H1526.2M1514.2,1298.6H1526.2"/>
</g>
<g class="p">
<rect x="871.7" y="1420.7" width="17" height="37.8"/><rect x="966.7" y="1374.2" width="17" height="84.3"/><rect x="1061.7" y="1453.4" width="17" height="5.1"/><rect x="1156.7" y="1452.7" width="17" height="5.8"/><rect x="1251.7" y="1443.2" width="17" height="15.3"/><rect x="1346.7" y="1396.7" width="17" height="61.8"/><rect x="1441.7" y="1451.2" width="17" height="7.3"/><rect x="1536.7" y="1425.8" width="17" height="32.7"/>
<path d="M880.2,1413.4V1428M874.2,1413.4H886.2M874.2,1428H886.2M975.2,1357.4V1391M969.2,1357.4H981.2M969.2,1391H981.2M1355.2,1393V1400M1349.2,1393H1361.2"/>
</g>
<g class="fk">
<circle cx="823" cy="1376.4" r="4.5"/><circle cx="835" cy="1376.4" r="4.5"/><circle cx="829" cy="1400.7" r="4.5"/>
<circle cx="918" cy="1377" r="4.5"/><circle cx="930" cy="1379" r="4.5"/><circle cx="924" cy="1400" r="4.5"/>
<circle cx="1013" cy="1382" r="4.5"/><circle cx="1019" cy="1388" r="4.5"/><circle cx="1026" cy="1388" r="4.5"/>
<circle cx="1108" cy="1385.8" r="4.5"/><circle cx="1114" cy="1382" r="4.5"/><circle cx="1120" cy="1385" r="4.5"/>
<circle cx="1209" cy="1381" r="4.5"/><circle cx="1203" cy="1388" r="4.5"/><circle cx="1215" cy="1388" r="4.5"/>
<circle cx="1304" cy="1377" r="4.5"/><circle cx="1298" cy="1388" r="4.5"/><circle cx="1304" cy="1393" r="4.5"/>
<circle cx="1399" cy="1378.5" r="4.5"/><circle cx="1393" cy="1388" r="4.5"/><circle cx="1405" cy="1391" r="4.5"/>
<circle cx="1488" cy="1385" r="4.5"/><circle cx="1494" cy="1384" r="4.5"/><circle cx="1500" cy="1385" r="4.5"/>
</g>
<g class="fr">
<circle cx="855" cy="1382" r="4.5"/><circle cx="855" cy="1393" r="4.5"/><circle cx="855" cy="1404" r="4.5"/>
<circle cx="950" cy="1204" r="4.5"/><circle cx="950" cy="1240" r="4.5"/><circle cx="950" cy="1253.5" r="4.5"/>
<circle cx="1045" cy="1340" r="4.5"/><circle cx="1039" cy="1356" r="4.5"/><circle cx="1051" cy="1356" r="4.5"/>
<circle cx="1140" cy="1141.5" r="4.5"/><circle cx="1140" cy="1239" r="4.5"/><circle cx="1140" cy="1285.5" r="4.5"/>
<circle cx="1235" cy="1264.4" r="4.5"/><circle cx="1230" cy="1267" r="4.5"/><circle cx="1240" cy="1267" r="4.5"/>
<circle cx="1330" cy="1260.7" r="4.5"/><circle cx="1330" cy="1300" r="4.5"/><circle cx="1330" cy="1330.5" r="4.5"/>
<circle cx="1425" cy="1175" r="4.5"/><circle cx="1419" cy="1258.6" r="4.5"/><circle cx="1431" cy="1258.6" r="4.5"/>
<circle cx="1520" cy="1257" r="4.5"/><circle cx="1520" cy="1294" r="4.5"/><circle cx="1520" cy="1303.6" r="4.5"/>
</g>
<g class="fp">
<circle cx="880" cy="1411" r="4.5"/><circle cx="880" cy="1418.5" r="4.5"/><circle cx="880" cy="1431" r="4.5"/>
<circle cx="975" cy="1348" r="4.5"/><circle cx="975" cy="1375" r="4.5"/><circle cx="975" cy="1399" r="4.5"/>
<circle cx="1064" cy="1453" r="4.5"/><circle cx="1070" cy="1453" r="4.5"/><circle cx="1076" cy="1453" r="4.5"/>
<circle cx="1165" cy="1446" r="4.5"/><circle cx="1160" cy="1455" r="4.5"/><circle cx="1170" cy="1456" r="4.5"/>
<circle cx="1260" cy="1438" r="4.5"/><circle cx="1255" cy="1444" r="4.5"/><circle cx="1265" cy="1445" r="4.5"/>
<circle cx="1350" cy="1392" r="4.5"/><circle cx="1360" cy="1392" r="4.5"/><circle cx="1355" cy="1404" r="4.5"/>
<circle cx="1450" cy="1447.6" r="4.5"/><circle cx="1445" cy="1451" r="4.5"/><circle cx="1455" cy="1453.4" r="4.5"/>
<circle cx="1545" cy="1422" r="4.5"/><circle cx="1540" cy="1427" r="4.5"/><circle cx="1550" cy="1427" r="4.5"/>
</g>
<path class="sg" d="M913,1176.7H943M951,1176.7H980M1008,1291H1075M1010,1314H1043M1047,1314H1075M1108,1120.5H1136M1142,1120.5H1165M1196,1213.7H1266M1199,1236.6H1228M1235,1236.6H1263M1300,1239H1326M1335,1239H1361M1388,1157H1417M1421,1157H1451M1486,1200.6H1559M1490,1226.5H1516M1522,1226.5H1551"/>
<g font-size="20" text-anchor="middle">
<text x="928" y="1180">***</text><text x="965" y="1180">***</text>
<text x="1041" y="1294">****</text><text x="1026" y="1317">**</text><text x="1061" y="1317">****</text>
<text x="1122" y="1124">**</text><text x="1153" y="1124">**</text>
<text x="1231" y="1217">****</text><text x="1213" y="1240">****</text><text x="1249" y="1240">****</text>
<text x="1313" y="1242">**</text><text x="1348" y="1242">**</text>
<text x="1402" y="1160">**</text><text x="1436" y="1160">***</text>
<text x="1522" y="1204">*</text><text x="1503" y="1230">***</text><text x="1536" y="1230">****</text>
</g>
<g font-size="25" font-style="italic" text-anchor="middle">
<text x="855" y="1494">Myd88</text><text x="950" y="1494">Il1b</text><text x="1045" y="1494">Irf7</text><text x="1140" y="1494">Ifnb</text><text x="1235" y="1494">Ccl5</text><text x="1330" y="1494">Cd80</text><text x="1425" y="1494">Cd86</text><text x="1520" y="1494">Cxcl9</text>
</g>
<rect x="853" y="1519" width="37" height="17" class="k"/><text x="895" y="1536" font-size="25">scramble</text>
<rect x="1011" y="1519" width="37" height="17" class="r"/><text x="1055" y="1536" font-size="25" font-style="italic">Tet3<tspan font-size="16" dy="-10">KD</tspan></text>
<rect x="1131" y="1519" width="37" height="17" class="p"/><text x="1175" y="1536" font-size="25"><tspan font-style="italic">Tet3</tspan><tspan font-size="16" font-style="italic" dy="-10">KD</tspan><tspan dy="10"> + TLR7in</tspan></text>
</svg>
</body></html>
